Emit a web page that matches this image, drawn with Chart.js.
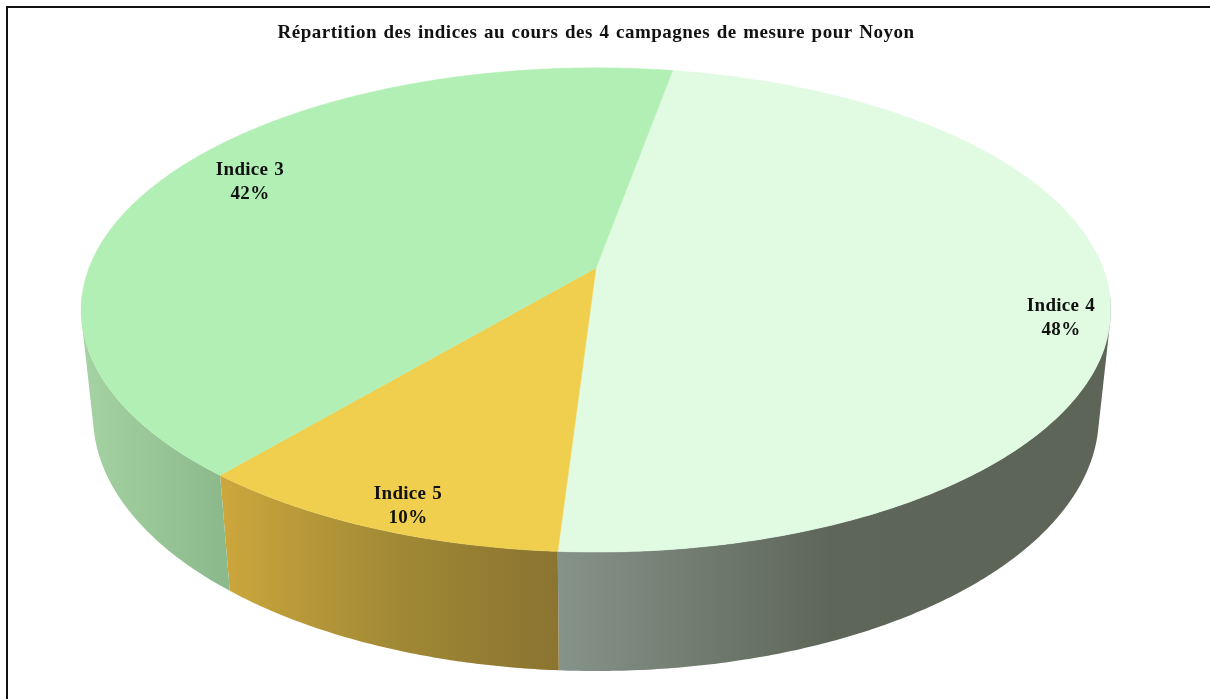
<!DOCTYPE html>
<html lang="fr">
<head>
  <meta charset="UTF-8">
  <title>Répartition des indices - Noyon</title>
  <script src="https://cdn.jsdelivr.net/npm/chart.js"></script>
  <style>
    html, body { margin: 0; padding: 0; background: #fff; overflow: hidden; }
    #wrap { position: relative; width: 1210px; height: 699px; }
    #frame { position: absolute; left: 6px; top: 6px; right: 0; bottom: 0; border-left: 2px solid #111; border-top: 2px solid #111; pointer-events: none; }
  </style>
</head>
<body>
  <div id="wrap">
    <canvas id="pieChart" width="1210" height="699"></canvas>
    <div id="frame"></div>
  </div>

  <script>
    const chartTitle = 'Répartition des indices au cours des 4 campagnes de mesure pour Noyon';
    const categories = ['Indice 4', 'Indice 5', 'Indice 3'];
    const values = [48.16, 10.12, 41.72];

    const topColors = ['#e0fbe2', '#f0cf4e', '#b2efb4'];
    // wall shading, left to right along the screen
    const wallStops = [
      [[558, '#86938a'], [700, '#717c6f'], [830, '#5d6659'], [1111, '#5c6558']],
      [[220, '#cca73c'], [400, '#a08835'], [558, '#8a7430']],
      [[85, '#a4d2a2'], [220, '#8dba8d']]
    ];
    // label centres on the picture (first line, second line is 24px lower)
    const labelX = [1061, 408, 250];
    const labelY = [306, 494, 170];

    // tilted view of the disc, measured on the picture
    const view = {
      scaleX: 2.413,   // horizontal radius / library radius
      scaleY: 1.1176,  // depth radius / library radius
      persp: 0.1736,   // near side looks bigger
      drop: 107.6,     // thickness of the disc
      dropPersp: 0.023 // lower face is a bit further away
    };

    function project(arc, angle, z) {
      const u = Math.cos(angle);
      const v = Math.sin(angle);
      const w = 1 - view.persp * v + view.dropPersp * z;
      return {
        x: arc.x + arc.outerRadius * view.scaleX * u / w,
        y: arc.y + (arc.outerRadius * view.scaleY * v + view.drop * z) / w
      };
    }

    function steps(a0, a1) {
      return Math.max(8, Math.ceil(Math.abs(a1 - a0) * 120));
    }

    function wallPath(ctx, arc) {
      // one quad per step, all wound the same way so the fold at the silhouette stays filled
      const n = steps(arc.startAngle, arc.endAngle);
      const da = (arc.endAngle - arc.startAngle) / n;
      ctx.beginPath();
      for (let i = 0; i < n; i++) {
        const a = arc.startAngle + da * i;
        // back part is hidden under the top face
        if (Math.sin(a) < 0.12 && Math.sin(a + da) < 0.12) continue;
        let q = [project(arc, a, 0), project(arc, a + da, 0), project(arc, a + da, 1), project(arc, a, 1)];
        let area = 0;
        q.forEach((p, k) => {
          const r = q[(k + 1) % 4];
          area += p.x * r.y - r.x * p.y;
        });
        if (area < 0) q = q.reverse();
        q.forEach((p, k) => k ? ctx.lineTo(p.x, p.y) : ctx.moveTo(p.x, p.y));
        ctx.closePath();
      }
    }

    const tiltedPie = {
      id: 'tiltedPie',
      beforeDraw(chart) {
        chart.ctx.letterSpacing = '0.5px';
        chart.ctx.wordSpacing = '1.3px';
      },
      beforeDatasetsDraw(chart) {
        const ctx = chart.ctx;
        const arcs = chart.getDatasetMeta(0).data;

        // side wall first, top face goes over it
        arcs.forEach((arc, i) => {
          const stops = wallStops[i];
          const x0 = stops[0][0];
          const x1 = stops[stops.length - 1][0];
          const g = ctx.createLinearGradient(x0, 0, x1, 0);
          stops.forEach(s => g.addColorStop((s[0] - x0) / (x1 - x0), s[1]));
          wallPath(ctx, arc);
          ctx.fillStyle = g;
          ctx.fill();
        });

        arcs.forEach((arc, i) => {
          const n = steps(arc.startAngle, arc.endAngle);
          ctx.beginPath();
          ctx.moveTo(arc.x, arc.y);
          for (let k = 0; k <= n; k++) {
            const p = project(arc, arc.startAngle + (arc.endAngle - arc.startAngle) * k / n, 0);
            ctx.lineTo(p.x, p.y);
          }
          ctx.closePath();
          ctx.fillStyle = topColors[i];
          ctx.strokeStyle = topColors[i];
          ctx.lineWidth = 0.5;
          ctx.fill();
          ctx.stroke();
        });

        ctx.fillStyle = '#111';
        ctx.font = 'bold 19px "Liberation Serif"';
        ctx.letterSpacing = '0.3px';
        ctx.wordSpacing = '1px';
        ctx.textAlign = 'center';
        ctx.textBaseline = 'middle';
        categories.forEach((name, i) => {
          ctx.fillText(name, labelX[i], labelY[i]);
          ctx.fillText(Math.round(values[i]) + '%', labelX[i], labelY[i] + 24);
        });
        ctx.letterSpacing = '0.5px';
        ctx.wordSpacing = '1.3px';
        return false;
      }
    };

    new Chart(document.getElementById('pieChart'), {
      type: 'pie',
      data: {
        labels: categories,
        datasets: [{ data: values, backgroundColor: topColors, borderWidth: 0 }]
      },
      options: {
        responsive: false,
        animation: false,
        rotation: 10.2,
        layout: { padding: { left: 0, right: 18, top: 0, bottom: 221 } },
        plugins: {
          legend: { display: false },
          tooltip: { enabled: false },
          title: {
            display: true,
            text: chartTitle,
            color: '#111',
            font: { family: '"Liberation Serif"', size: 19, weight: 'bold' },
            padding: { top: 22, bottom: 13 }
          }
        }
      },
      plugins: [tiltedPie]
    });
  </script>
</body>
</html>
